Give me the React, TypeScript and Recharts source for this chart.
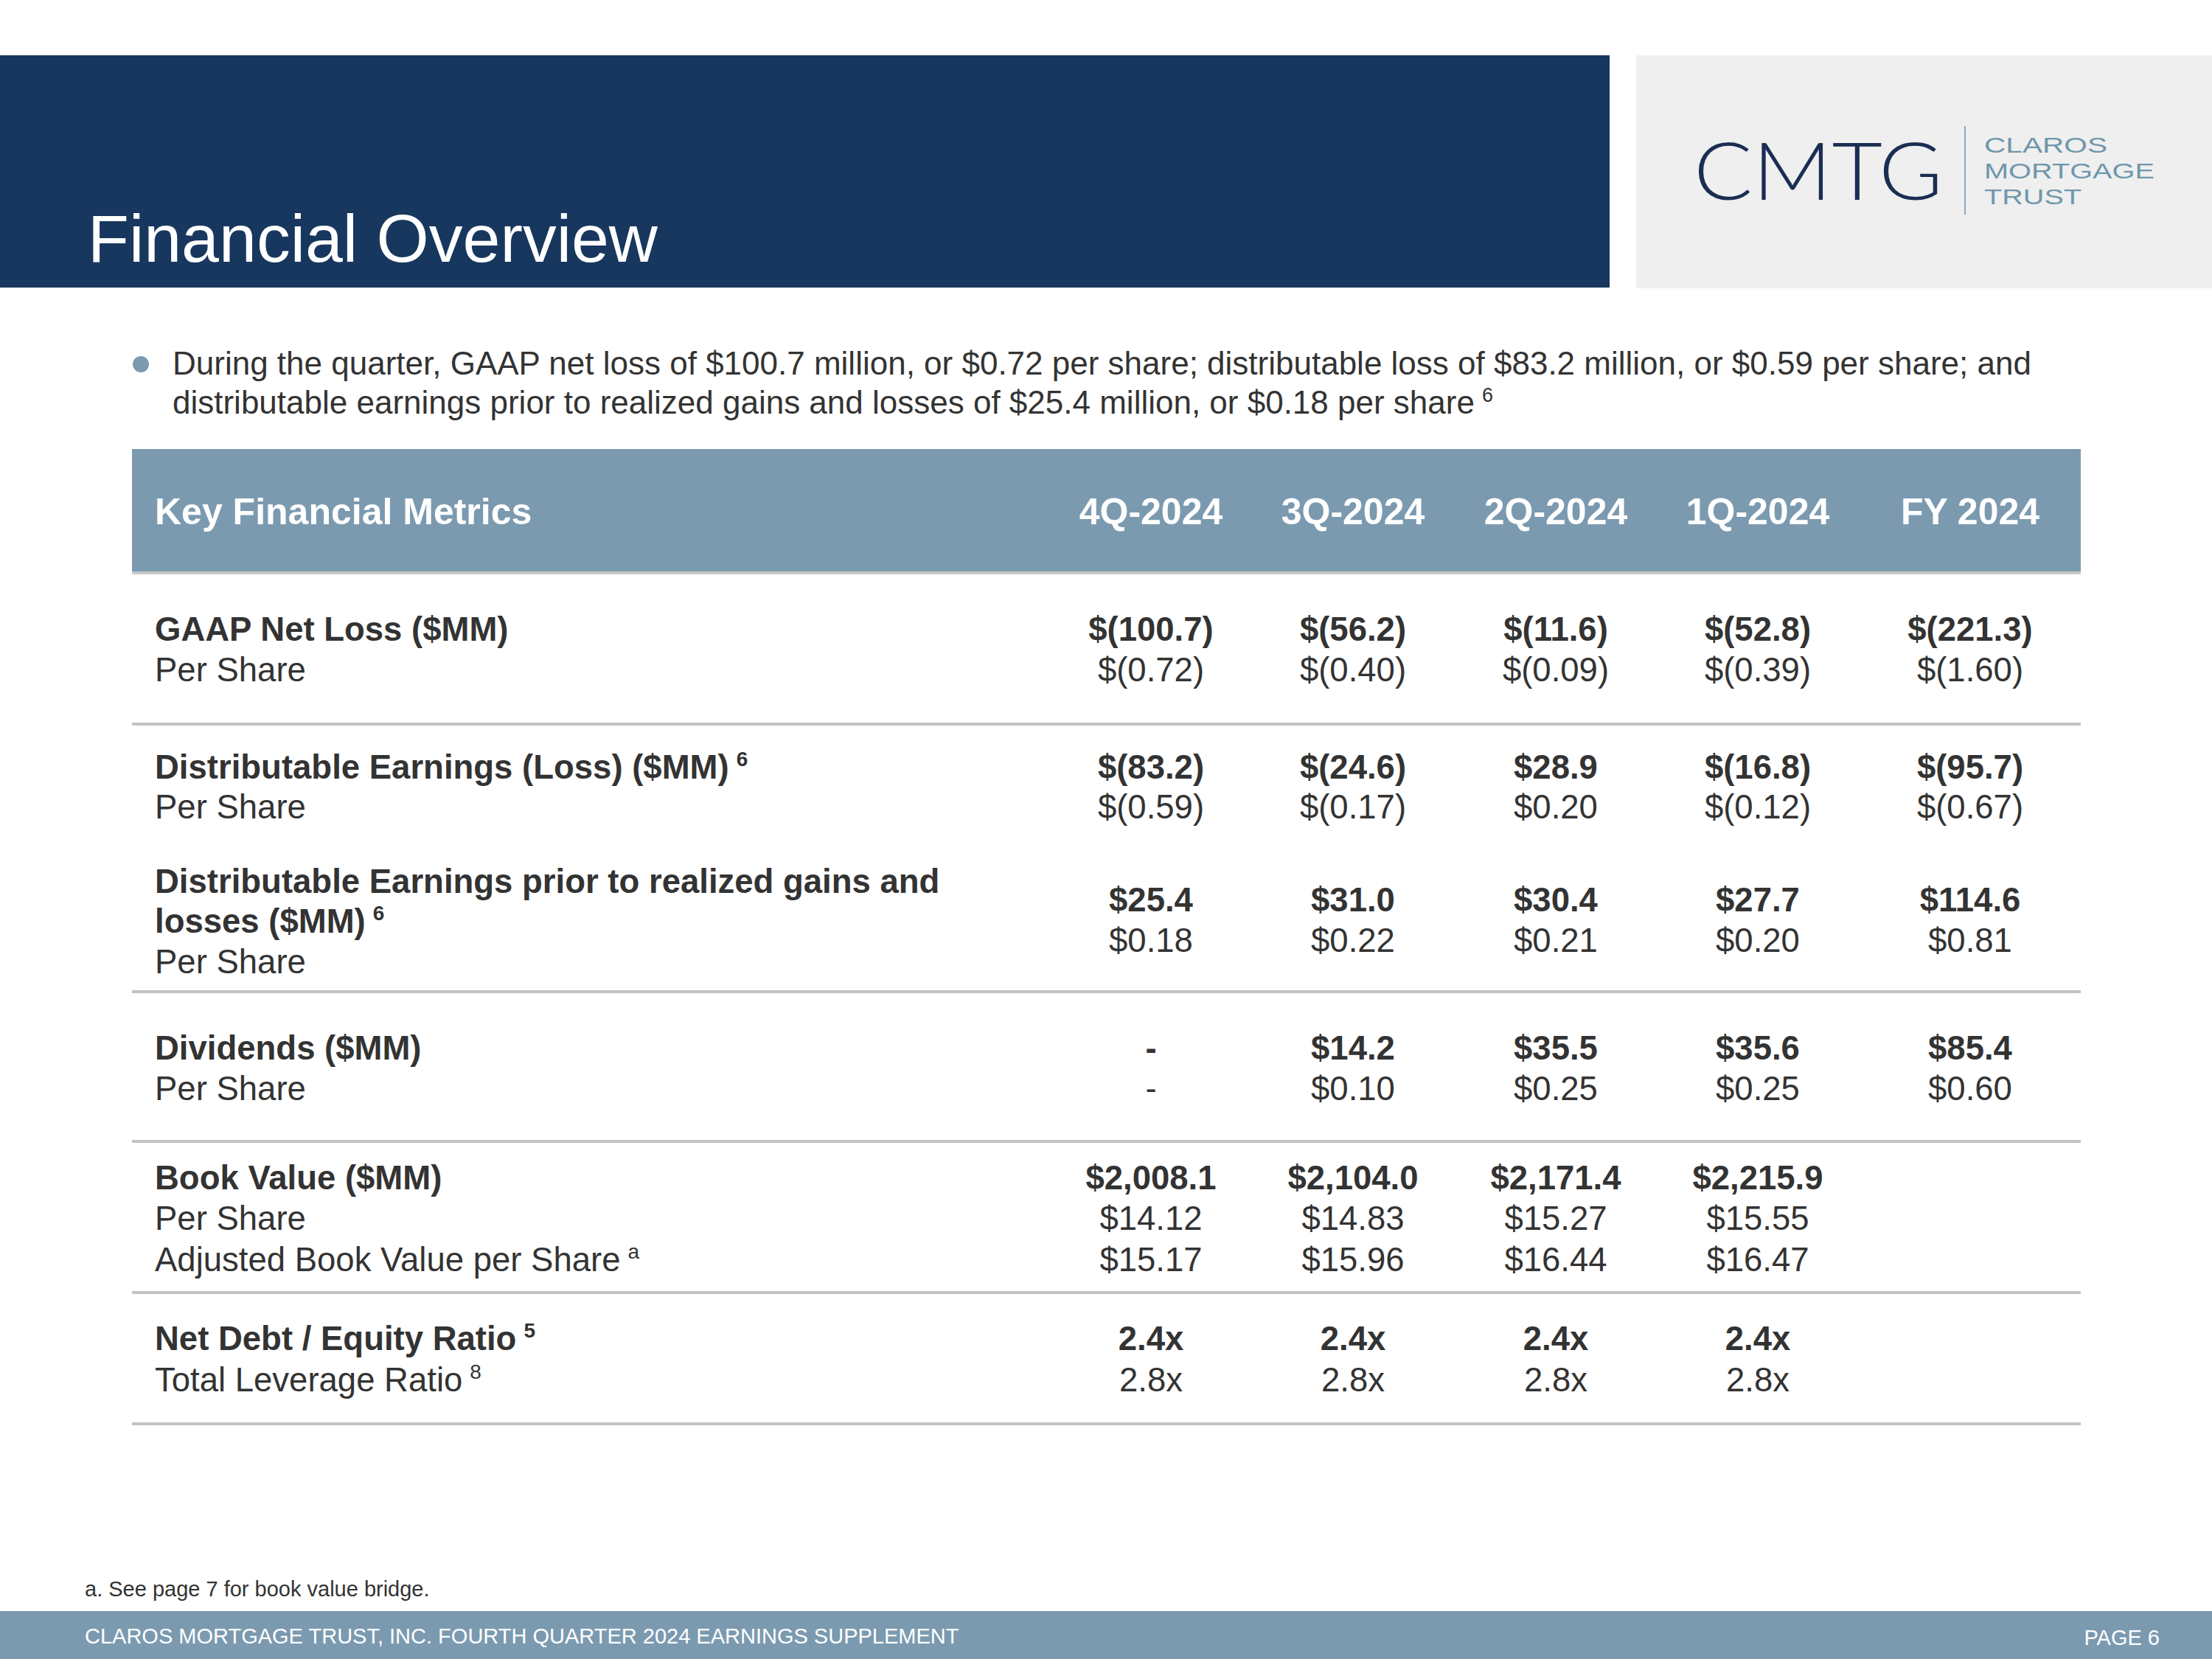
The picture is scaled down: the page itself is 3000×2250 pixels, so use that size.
import React from 'react';
import { Surface, Layer, Rectangle, Text } from 'recharts';

// ---------- data ----------
const periods = ['4Q-2024', '3Q-2024', '2Q-2024', '1Q-2024', 'FY 2024'];
const gaapNetLoss = [-100.7, -56.2, -11.6, -52.8, -221.3];
const gaapPerShare = [-0.72, -0.4, -0.09, -0.39, -1.6];
const distEarnings = [-83.2, -24.6, 28.9, -16.8, -95.7];
const distPerShare = [-0.59, -0.17, 0.2, -0.12, -0.67];
const distPrior = [25.4, 31.0, 30.4, 27.7, 114.6];
const distPriorPerShare = [0.18, 0.22, 0.21, 0.2, 0.81];
const dividends = [null, 14.2, 35.5, 35.6, 85.4];
const dividendsPerShare = [null, 0.1, 0.25, 0.25, 0.6];
const bookValue = [2008.1, 2104.0, 2171.4, 2215.9, null];
const bookPerShare = [14.12, 14.83, 15.27, 15.55, null];
const adjBookPerShare = [15.17, 15.96, 16.44, 16.47, null];
const netDebtEquity = [2.4, 2.4, 2.4, 2.4, null];
const totalLeverage = [2.8, 2.8, 2.8, 2.8, null];

const titleText = 'Financial Overview';
const bulletLine1 =
  'During the quarter, GAAP net loss of $100.7 million, or $0.72 per share; distributable loss of $83.2 million, or $0.59 per share; and';
const bulletLine2 = 'distributable earnings prior to realized gains and losses of $25.4 million, or $0.18 per share';
const footnote = 'a. See page 7 for book value bridge.';
const footerText = 'CLAROS MORTGAGE TRUST, INC. FOURTH QUARTER 2024 EARNINGS SUPPLEMENT';
const pageText = 'PAGE 6';

// ---------- formatting ----------
const fmtMoney = (v: number | null, d: number) => {
  if (v === null) return '-';
  const abs = Math.abs(v).toLocaleString('en-US', { minimumFractionDigits: d, maximumFractionDigits: d });
  return v < 0 ? `$(${abs})` : `$${abs}`;
};
const fmtRatio = (v: number | null) => (v === null ? '' : `${v.toFixed(1)}x`);

// ---------- style ----------
const FONT = '"Liberation Sans", Arial, Helvetica, sans-serif';
const NAVY = '#18375e';
const STEEL = '#7b9ab0';
const TXT = '#333333';
const RULE = '#c2c2c2';
const COLX = [1561, 1835, 2110, 2384, 2672];
const LABEL_X = 210;
const TABLE_L = 179;
const TABLE_R = 2822;
const FS = 45.5;

const ValueRow = ({ vals, y, bold }: { vals: string[]; y: number; bold?: boolean }) => (
  <Layer>
    {vals.map((v, i) =>
      v === '' ? null : (
        <text
          key={i}
          x={COLX[i]}
          y={y}
          textAnchor="middle"
          fontFamily={FONT}
          fontSize={FS}
          fontWeight={bold ? 700 : 400}
          fill={TXT}
        >
          {v}
        </text>
      )
    )}
  </Layer>
);

const Label = ({ text, y, bold, sup }: { text: string; y: number; bold?: boolean; sup?: string }) => (
  <text x={LABEL_X} y={y} fontFamily={FONT} fontSize={FS} fontWeight={bold ? 700 : 400} fill={TXT}>
    {text}
    {sup ? (
      <tspan dy={-17} fontSize={28} dx={10}>
        {sup}
      </tspan>
    ) : null}
  </text>
);

const Rule = ({ y }: { y: number }) => <Rectangle x={TABLE_L} y={y - 2} width={TABLE_R - TABLE_L} height={4} fill={RULE} />;

export default function App() {
  return (
    <div style={{ position: 'absolute', left: 0, top: 0, width: 3000, height: 2250, background: '#ffffff' }}>
      <Surface width={3000} height={2250}>
        <Rectangle x={0} y={0} width={3000} height={2250} fill="#ffffff" />
        {/* header band */}
        <Rectangle x={0} y={75} width={2183} height={315} fill={NAVY} />
        <Text x={119} y={355} fontFamily={FONT} fontSize={91.5} fill="#ffffff" verticalAnchor="end">
          {titleText}
        </Text>
        {/* logo box */}
        <Rectangle x={2219} y={75} width={781} height={316} fill="#efefef" />
        <text
          x={2297}
          y={271}
          fontFamily='"Lato", "Noto Sans", sans-serif'
          fontWeight={300}
          fontSize={108}
          fill="#1b2d52"
          textLength={338}
          lengthAdjust="spacingAndGlyphs"
        >
          CMTG
        </text>
        <Rectangle x={2664} y={171} width={2} height={120} fill="#8fa9b8" />
        <text x={2691} y={207} fontFamily={FONT} fontSize={30} fill="#6f97ab" textLength={167} lengthAdjust="spacingAndGlyphs">
          CLAROS
        </text>
        <text x={2691} y={242} fontFamily={FONT} fontSize={30} fill="#6f97ab" textLength={231} lengthAdjust="spacingAndGlyphs">
          MORTGAGE
        </text>
        <text x={2691} y={277} fontFamily={FONT} fontSize={30} fill="#6f97ab" textLength={132} lengthAdjust="spacingAndGlyphs">
          TRUST
        </text>

        {/* bullet */}
        <circle cx={191} cy={494} r={11} fill={STEEL} />
        <text x={234} y={508} fontFamily={FONT} fontSize={44} fill={TXT}>
          {bulletLine1}
        </text>
        <text x={234} y={561} fontFamily={FONT} fontSize={44} fill={TXT}>
          {bulletLine2}
          <tspan dx={10} dy={-16} fontSize={27}>
            6
          </tspan>
        </text>

        {/* table header */}
        <Rectangle x={TABLE_L} y={609} width={TABLE_R - TABLE_L} height={167} fill={STEEL} />
        <Rectangle x={TABLE_L} y={775} width={TABLE_R - TABLE_L} height={4} fill="#c9c9c9" />
        <text x={LABEL_X} y={711} fontFamily={FONT} fontSize={50} fontWeight={700} fill="#ffffff">
          Key Financial Metrics
        </text>
        {periods.map((p, i) => (
          <text key={p} x={COLX[i]} y={711} textAnchor="middle" fontFamily={FONT} fontSize={50} fontWeight={700} fill="#ffffff">
            {p}
          </text>
        ))}

        {/* GAAP */}
        <Label text="GAAP Net Loss ($MM)" y={869} bold />
        <Label text="Per Share" y={924} />
        <ValueRow vals={gaapNetLoss.map((v) => fmtMoney(v, 1))} y={869} bold />
        <ValueRow vals={gaapPerShare.map((v) => fmtMoney(v, 2))} y={924} />
        <Rule y={982} />

        {/* Distributable */}
        <Label text="Distributable Earnings (Loss) ($MM)" y={1056} bold sup="6" />
        <Label text="Per Share" y={1110} />
        <ValueRow vals={distEarnings.map((v) => fmtMoney(v, 1))} y={1056} bold />
        <ValueRow vals={distPerShare.map((v) => fmtMoney(v, 2))} y={1110} />

        <Label text="Distributable Earnings prior to realized gains and" y={1211} bold />
        <Label text="losses ($MM)" y={1265} bold sup="6" />
        <Label text="Per Share" y={1320} />
        <ValueRow vals={distPrior.map((v) => fmtMoney(v, 1))} y={1236} bold />
        <ValueRow vals={distPriorPerShare.map((v) => fmtMoney(v, 2))} y={1291} />
        <Rule y={1345} />

        {/* Dividends */}
        <Label text="Dividends ($MM)" y={1437} bold />
        <Label text="Per Share" y={1492} />
        <ValueRow vals={dividends.map((v) => fmtMoney(v, 1))} y={1437} bold />
        <ValueRow vals={dividendsPerShare.map((v) => fmtMoney(v, 2))} y={1492} />
        <Rule y={1548} />

        {/* Book value */}
        <Label text="Book Value ($MM)" y={1613} bold />
        <Label text="Per Share" y={1668} />
        <Label text="Adjusted Book Value per Share" y={1724} sup="a" />
        <ValueRow vals={bookValue.map((v) => (v === null ? '' : fmtMoney(v, 1)))} y={1613} bold />
        <ValueRow vals={bookPerShare.map((v) => (v === null ? '' : fmtMoney(v, 2)))} y={1668} />
        <ValueRow vals={adjBookPerShare.map((v) => (v === null ? '' : fmtMoney(v, 2)))} y={1724} />
        <Rule y={1753} />

        {/* Leverage */}
        <Label text="Net Debt / Equity Ratio" y={1831} bold sup="5" />
        <Label text="Total Leverage Ratio" y={1887} sup="8" />
        <ValueRow vals={netDebtEquity.map(fmtRatio)} y={1831} bold />
        <ValueRow vals={totalLeverage.map(fmtRatio)} y={1887} />
        <Rule y={1931} />

        {/* footnote & footer */}
        <text x={115} y={2165} fontFamily={FONT} fontSize={29} fill={TXT}>
          {footnote}
        </text>
        <Rectangle x={0} y={2185} width={3000} height={65} fill={STEEL} />
        <text x={115} y={2229} fontFamily={FONT} fontSize={29} fill="#ffffff">
          {footerText}
        </text>
        <text x={2929} y={2231} textAnchor="end" fontFamily={FONT} fontSize={29} fill="#ffffff">
          {pageText}
        </text>
      </Surface>
    </div>
  );
}
